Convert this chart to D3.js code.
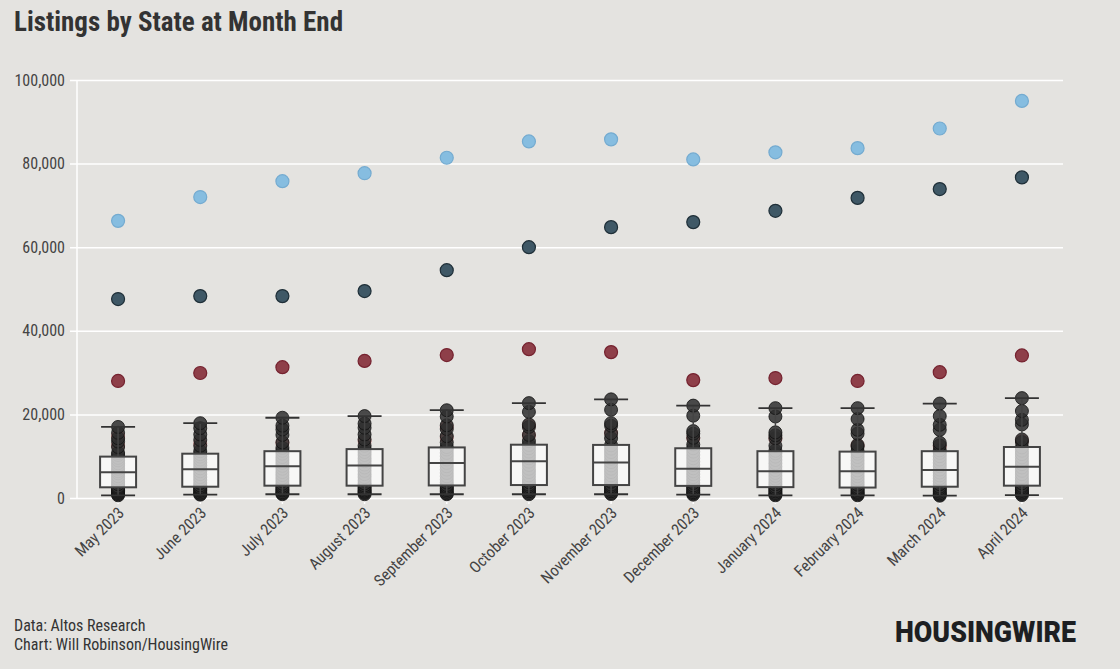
<!DOCTYPE html>
<html>
<head>
<meta charset="utf-8">
<script src="https://cdn.jsdelivr.net/npm/d3@7"></script>
<style>
  html, body { margin: 0; padding: 0; background: #e4e3e0; }
  svg { display: block; }
  text { font-family: "Roboto Condensed", "Liberation Sans Narrow", Roboto, sans-serif; }
</style>
</head>
<body>
<div id="chart"></div>
<script>
// months on the x axis
var months = ["May 2023", "June 2023", "July 2023", "August 2023", "September 2023", "October 2023",
    "November 2023", "December 2023", "January 2024", "February 2024", "March 2024", "April 2024"];

// highlighted states
var lightBlue = [66300, 72000, 75800, 77700, 81400, 85300, 85800, 81000, 82700, 83700, 88400, 95000];
var darkBlue = [47600, 48300, 48300, 49500, 54500, 60000, 64800, 66000, 68700, 71800, 73900, 76700];
var darkRed = [28000, 29900, 31300, 32800, 34200, 35600, 34900, 28200, 28700, 28000, 30100, 34100];

// box statistics
var whiskerLow = [650, 800, 900, 900, 900, 900, 900, 800, 650, 650, 550, 700];
var q1 = [2560, 2700, 2950, 2950, 3000, 3100, 3100, 2900, 2600, 2500, 2700, 2950];
var median = [6150, 6900, 7600, 7800, 8400, 8800, 8500, 7000, 6400, 6400, 6700, 7500];
var q3 = [9900, 10600, 11200, 11700, 12100, 12750, 12700, 11900, 11200, 11100, 11200, 12200];
var whiskerHigh = [17000, 17900, 19200, 19600, 21000, 22700, 23600, 22100, 21500, 21500, 22600, 23900];

// other states, one list per month
var otherStates = [
    [650, 900, 1200, 1500, 1800, 2100, 2400, 2700, 3300, 3900, 4600, 5200, 5900, 6400, 7000, 7700, 8300, 9000, 9600, 10300, 10800, 12200, 13500, 14300, 15600, 17000],
    [800, 1000, 1300, 1700, 2000, 2300, 2600, 3000, 3600, 4300, 5000, 5700, 6400, 7100, 7800, 8500, 9200, 9900, 10500, 11200, 12500, 13900, 15200, 16700, 17900],
    [900, 1100, 1400, 1800, 2100, 2500, 2900, 3400, 4100, 4800, 5500, 6200, 7000, 7700, 8400, 9100, 9800, 10600, 11300, 12000, 13300, 15100, 16400, 17300, 19200],
    [900, 1200, 1500, 1800, 2200, 2600, 3000, 3500, 4200, 5000, 5700, 6500, 7300, 8000, 8800, 9500, 10300, 11000, 11700, 12500, 14000, 15200, 16800, 17800, 19600],
    [900, 1100, 1500, 1900, 2300, 2700, 3100, 3700, 4400, 5200, 6000, 6800, 7600, 8400, 9200, 10000, 10800, 11600, 12200, 13300, 14800, 16500, 17400, 19500, 21000],
    [900, 1200, 1600, 2000, 2400, 2800, 3200, 3800, 4600, 5400, 6200, 7000, 7900, 8700, 9500, 10300, 11100, 11900, 12700, 13600, 15100, 17000, 17600, 20600, 22700],
    [950, 1200, 1600, 2000, 2400, 2800, 3200, 3900, 4600, 5400, 6200, 7000, 7800, 8600, 9400, 10200, 11000, 11800, 12600, 14300, 15500, 17300, 17900, 21100, 23600],
    [800, 1100, 1400, 1800, 2200, 2600, 3000, 3600, 4300, 5000, 5700, 6400, 7100, 7900, 8700, 9500, 10300, 11100, 11900, 12800, 14400, 15400, 16000, 19700, 22100],
    [650, 900, 1200, 1600, 2000, 2300, 2700, 3300, 3900, 4600, 5300, 6000, 6700, 7500, 8300, 9100, 9900, 10700, 11300, 12500, 14300, 15000, 15700, 19500, 21500],
    [650, 900, 1200, 1500, 1900, 2200, 2600, 3200, 3800, 4500, 5200, 5900, 6600, 7400, 8200, 9000, 9800, 10600, 11200, 12300, 12700, 15400, 16300, 18900, 21500],
    [550, 800, 1100, 1500, 1900, 2300, 2700, 3300, 4000, 4700, 5400, 6100, 6800, 7600, 8400, 9200, 10000, 10800, 11400, 12600, 13200, 16300, 17500, 19600, 22600],
    [700, 1000, 1300, 1700, 2100, 2500, 2900, 3500, 4200, 4900, 5700, 6500, 7300, 8100, 8900, 9700, 10500, 11300, 12100, 13400, 14000, 17600, 18700, 20800, 23900]
];

// states drawn in light red
var pinkStates = [
    [12600, 14800], [13000], [13200], [13600], [14400, 17000], [15000, 17300],
    [15600], [14300], [14200], [12600], [12300], [13700]
];

var yTicks = [0, 20000, 40000, 60000, 80000, 100000];

var width = 1120, height = 669;
var plotLeft = 77, plotRight = 1063, plotTop = 80, plotBottom = 498;

var svg = d3.select('#chart').append('svg')
    .attr('width', width).attr('height', height)
    .style('background', '#e4e3e0');

var x = d3.scaleBand().domain(months).range([plotLeft, plotRight]).padding(0);
var y = d3.scaleLinear().domain([0, 100000]).range([plotBottom, plotTop]);
var cx = (i) => x(months[i]) + x.bandwidth() / 2;

svg.append('text')
    .attr('x', 14).attr('y', 31)
    .style('font-size', '27px').style('font-weight', 'bold')
    .style('fill', '#333')
    .text('Listings by State at Month End');

// y axis + grid
var yAxis = svg.append('g')
    .attr('transform', 'translate(' + plotLeft + ',0)')
    .call(d3.axisLeft(y).tickValues(yTicks).tickFormat(d3.format(',')).tickSize(0).tickPadding(12));
yAxis.select('.domain').remove();
yAxis.selectAll('.tick text').style('font-size', '16px').style('fill', '#444');
yAxis.selectAll('.tick').append('line')
    .attr('x1', -7).attr('x2', plotRight - plotLeft)
    .attr('stroke', '#fff').attr('stroke-width', 1.5);

svg.append('line')
    .attr('x1', plotLeft).attr('x2', plotLeft).attr('y1', plotTop).attr('y2', plotBottom)
    .attr('stroke', '#fff').attr('stroke-width', 1.5);

// x axis
var xAxis = svg.append('g')
    .attr('transform', 'translate(0,' + plotBottom + ')')
    .call(d3.axisBottom(x).tickSize(6).tickPadding(4));
xAxis.select('.domain').remove();
xAxis.selectAll('.tick line').attr('stroke', '#fff').attr('stroke-width', 1.5);
xAxis.selectAll('.tick text')
    .style('font-size', '16px').style('fill', '#444')
    .style('text-anchor', 'end')
    .attr('dy', null).attr('y', 0)
    .attr('transform', 'translate(7,16) rotate(-45)');

var r = 6.5;
var plot = svg.append('g');

months.forEach(function (m, i) {
    var g = plot.append('g');
    g.selectAll('circle.pink')
        .data(pinkStates[i]).enter().append('circle')
        .attr('cx', cx(i)).attr('cy', (d) => y(d)).attr('r', r)
        .style('fill', '#e58f8f').style('fill-opacity', 0.85)
        .style('stroke', '#c86a6a').style('stroke-opacity', 0.6);
    g.selectAll('circle.state')
        .data(otherStates[i]).enter().append('circle')
        .attr('cx', cx(i)).attr('cy', (d) => y(d)).attr('r', r)
        .style('fill', '#2e2e2e').style('fill-opacity', 0.85)
        .style('stroke', '#111').style('stroke-opacity', 0.8).style('stroke-width', 1);

    var bw = 36;
    // whiskers
    g.append('line')
        .attr('x1', cx(i)).attr('x2', cx(i))
        .attr('y1', y(q3[i])).attr('y2', y(whiskerHigh[i]))
        .attr('stroke', '#444').attr('stroke-width', 1.5);
    g.append('line')
        .attr('x1', cx(i)).attr('x2', cx(i))
        .attr('y1', y(q1[i])).attr('y2', y(whiskerLow[i]))
        .attr('stroke', '#444').attr('stroke-width', 1.5);
    [whiskerHigh[i], whiskerLow[i]].forEach(function (v) {
        g.append('line')
            .attr('x1', cx(i) - 17).attr('x2', cx(i) + 17)
            .attr('y1', y(v)).attr('y2', y(v))
            .attr('stroke', '#333').attr('stroke-width', 1.8);
    });
    g.append('rect')
        .attr('x', cx(i) - bw / 2).attr('width', bw)
        .attr('y', y(q3[i])).attr('height', y(q1[i]) - y(q3[i]))
        .style('fill', '#fff').style('fill-opacity', 0.7)
        .style('stroke', '#444').style('stroke-width', 2);
    g.append('line')
        .attr('x1', cx(i) - bw / 2).attr('x2', cx(i) + bw / 2)
        .attr('y1', y(median[i])).attr('y2', y(median[i]))
        .attr('stroke', '#444').attr('stroke-width', 2);
});

function highlight(values, fill, stroke) {
    plot.append('g').selectAll('circle')
        .data(values).enter().append('circle')
        .attr('cx', (d, i) => cx(i)).attr('cy', (d) => y(d)).attr('r', r)
        .style('fill', fill).style('stroke', stroke).style('stroke-width', 1.2);
}
highlight(lightBlue, '#86bde0', '#74abd0');
highlight(darkBlue, '#3f5866', '#1f2f38');
highlight(darkRed, '#8e3f49', '#75222f');

// footer
svg.append('text').attr('x', 14).attr('y', 631)
    .style('font-size', '16px').style('fill', '#333')
    .text('Data: Altos Research');
svg.append('text').attr('x', 14).attr('y', 650)
    .style('font-size', '16px').style('fill', '#333')
    .text('Chart: Will Robinson/HousingWire');
svg.append('text').attr('x', 895).attr('y', 642)
    .attr('textLength', 181).attr('lengthAdjust', 'spacingAndGlyphs')
    .style('font-size', '30px').style('font-weight', '900')
    .style('font-family', 'Roboto, "DejaVu Sans", sans-serif')
    .style('fill', '#1d1f22')
    .text('HOUSINGWIRE');
</script>
</body>
</html>
